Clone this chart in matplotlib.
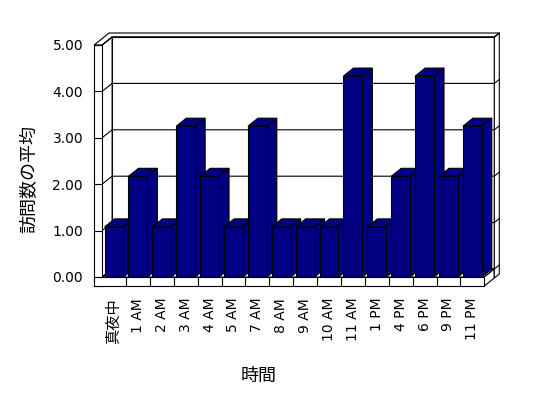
import matplotlib
matplotlib.use('Agg')
import matplotlib.pyplot as plt
from matplotlib.patches import Polygon, Rectangle

categories = ['真夜中', '1 AM', '2 AM', '3 AM', '4 AM', '5 AM', '7 AM', '8 AM',
              '9 AM', '10 AM', '11 AM', '1 PM', '4 PM', '6 PM', '9 PM', '11 PM']
values = [1.08, 2.17, 1.08, 3.25, 2.17, 1.08, 3.25, 1.08,
          1.08, 1.08, 4.33, 1.08, 2.17, 4.33, 2.17, 3.25]
y_ticks = [0, 1, 2, 3, 4, 5]
y_tick_labels = ['0.00', '1.00', '2.00', '3.00', '4.00', '5.00']
x_title = '時間'
y_title = '訪問数の平均'

plt.rcParams['font.family'] = ['DejaVu Sans', 'Noto Sans CJK JP']

W, H = 548, 398
fig = plt.figure(figsize=(W / 100, H / 100), dpi=100)
ax = fig.add_axes([102.1 / W, (H - 277) / H, 382.2 / W, 232 / H])
n = len(categories)
ax.set_xlim(-0.5, n - 0.5)
ax.set_ylim(0, 5)
for s in ax.spines.values():
    s.set_visible(False)

px_x = 382.2 / n
px_y = 232 / 5
DX, DY = 10 / px_x, 8 / px_y      # depth offset
TX, TY = 5 / px_x, 4 / px_y       # back wall thickness
WL = 8 / px_x                     # left wall thickness
FL = 9 / px_y                     # floor thickness
x0, x1 = -0.5, n - 0.5
top = 5
lw = 0.8
navy = '#000080'


def poly(pts, z, fc='white'):
    ax.add_patch(Polygon(pts, closed=True, facecolor=fc, edgecolor='black',
                         linewidth=lw, clip_on=False, zorder=z, joinstyle='miter'))


# back wall, left wall inner side, floor top
poly([(x0 + DX, DY), (x1 + DX, DY), (x1 + DX, top + DY), (x0 + DX, top + DY)], 1)
poly([(x0, 0), (x0 + DX, DY), (x0 + DX, top + DY), (x0, top)], 1)
poly([(x0, 0), (x1, 0), (x1 + DX, DY), (x0 + DX, DY)], 1)
# floor right side and back wall right side
poly([(x1, -FL), (x1, 0), (x1 + DX, DY), (x1 + DX, DY - FL)], 1)
poly([(x1 + DX, DY - FL), (x1 + DX, top + DY), (x1 + DX + TX, top + DY + TY),
      (x1 + DX + TX, DY - FL + TY)], 1)
# top slab of walls
poly([(x0 - WL, top), (x0, top), (x0 + DX, top + DY), (x1 + DX, top + DY),
      (x1 + DX + TX, top + DY + TY), (x0 - WL + DX + TX, top + DY + TY)], 1)

# grid lines
for v in y_ticks:
    ax.plot([x0, x0 + DX, x1 + DX, x1 + DX + TX], [v, v + DY, v + DY, v + DY + TY],
            color='black', lw=lw, clip_on=False, zorder=1.5)

# bars
w = 0.79
xs = list(range(n))
bars = ax.bar(xs, values, width=w, color=navy, edgecolor='black', linewidth=lw)
for i, (b, v) in enumerate(zip(bars, values)):
    z = 5 + 0.01 * i
    b.set_zorder(z + 0.005)
    b.set_clip_on(False)
    xl, xr = i - w / 2, i + w / 2
    poly([(xl, v), (xr, v), (xr + DX, v + DY), (xl + DX, v + DY)], z, navy)
    poly([(xr, 0), (xr, v), (xr + DX, v + DY), (xr + DX, DY)], z, navy)

# front faces of left wall and floor
ax.add_patch(Rectangle((x0 - WL, -FL), WL, top + FL, facecolor='white', edgecolor='black',
                       linewidth=lw, clip_on=False, zorder=20))
ax.add_patch(Rectangle((x0 - WL, -FL), x1 - (x0 - WL), FL, facecolor='white', edgecolor='black',
                       linewidth=lw, clip_on=False, zorder=20))
for i in range(n - 1):
    ax.plot([i + 0.5, i + 0.5], [-FL, 0], color='black', lw=lw, clip_on=False, zorder=21)
for v in y_ticks:
    ax.plot([x0 - WL, x0], [v, v], color='black', lw=lw, clip_on=False, zorder=21)

# ticks and labels
ax.set_yticks(y_ticks, y_tick_labels)
ax.tick_params(axis='y', length=0, pad=13.7, labelsize=10)
ax.set_xticks(xs, categories, rotation=90)
ax.tick_params(axis='x', length=0, pad=15, labelsize=10)
ax.get_xticklabels()[0].set_fontsize(11)

ax.set_ylabel(y_title, fontsize=13, family=['Noto Sans CJK JP'], va='center')
ax.yaxis.set_label_coords(-0.191, 0.422)
ax.set_xlabel(x_title, fontsize=13, family=['Noto Sans CJK JP'], va='center')
ax.xaxis.set_label_coords(0.4105, -0.4267)

fig.savefig('out.png', dpi=100)
